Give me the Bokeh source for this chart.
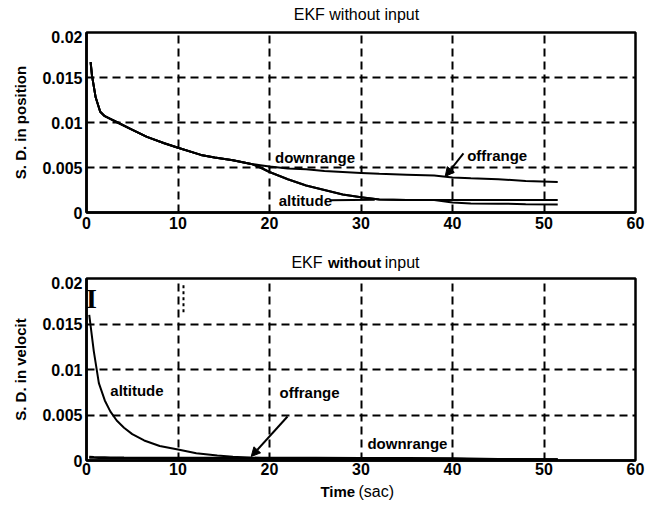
from bokeh.plotting import figure
from bokeh.layouts import column
from bokeh.models import Range1d, FixedTicker, Label, Arrow, NormalHead
from bokeh.embed import file_html
from bokeh.resources import INLINE

# axes
x_ticks = [0, 10, 20, 30, 40, 50, 60]
y_ticks = [0, 0.005, 0.01, 0.015, 0.02]
y_tick_labels = ["0", "0.005", "0.01", "0.015", "0.02"]

# standard deviation in position (time in seconds)
t_pos = [0.45, 0.6, 1.0, 1.5, 2.0, 2.6, 3.4, 4.8, 6.6, 8.5, 10, 12.5, 14, 16,
         18, 19, 20, 22, 24, 26, 28, 30, 32, 35, 38, 40, 42, 45, 48, 51.5]
pos_downrange = [0.0167, 0.0152, 0.0128, 0.0112, 0.0107, 0.0104, 0.0100, 0.0093,
                 0.0084, 0.0077, 0.0072, 0.0064, 0.0061, 0.0058,
                 0.0054, 0.00525, 0.0051, 0.0049, 0.0048, 0.0046, 0.0045, 0.0044,
                 0.0043, 0.0042, 0.0041, 0.0039, 0.0038, 0.0037, 0.0035, 0.0034]
pos_altitude = [0.0167, 0.0152, 0.0128, 0.0112, 0.0107, 0.0104, 0.0100, 0.0093,
                0.0084, 0.0077, 0.0072, 0.0064, 0.0061, 0.0058,
                0.0054, 0.0050, 0.0045, 0.0037, 0.0030, 0.0025, 0.0020, 0.0017,
                0.00145, 0.0014, 0.0014, 0.0014, 0.0014, 0.0014, 0.0014, 0.0014]
pos_offrange = [0.0167, 0.0152, 0.0128, 0.0112, 0.0107, 0.0104, 0.0100, 0.0093,
                0.0084, 0.0077, 0.0072, 0.0064, 0.0061, 0.0058,
                0.0054, 0.0050, 0.0045, 0.0037, 0.0030, 0.0025, 0.0020, 0.0017,
                0.00145, 0.0014, 0.0014, 0.0011, 0.0010, 0.00098, 0.00093, 0.0009]

# standard deviation in velocity
t_vel = [0.3, 0.8, 1.35, 2.0, 2.6, 3.3, 4.1, 5.0, 6.3, 8, 10, 12, 14.3, 16,
         18, 20, 25, 30, 35, 40, 45, 51.5]
vel_altitude = [0.0160, 0.0120, 0.0085, 0.0066, 0.0054, 0.0044, 0.0036, 0.0029,
                0.0022, 0.0016, 0.0012, 0.0008, 0.00055, 0.0004, 0.0003, 0.00025,
                0.0002, 0.00018, 0.00016, 0.00015, 0.00013, 0.00012]
vel_downrange = [0.0004, 0.00038, 0.00036, 0.00035, 0.00034, 0.00033, 0.00032, 0.00031,
                 0.0003, 0.0003, 0.0003, 0.0003, 0.0003, 0.0003, 0.0003, 0.0003,
                 0.00029, 0.00028, 0.00027, 0.00025, 0.00016, 0.00013]
vel_offrange = [0.0003, 0.00029, 0.00028, 0.00027, 0.00026, 0.00025, 0.00024, 0.00024,
                0.00023, 0.00023, 0.00022, 0.00022, 0.00022, 0.00022, 0.00022, 0.0002,
                0.0002, 0.0002, 0.00019, 0.00018, 0.00012, 0.0001]

FONT = "Liberation Sans"
W = 656
BORDER_L, BORDER_R = 86, 21


def make_panel(height, bottom, ylabel, x_standoff):
    p = figure(width=W, height=height, x_range=Range1d(0, 60), y_range=Range1d(0, 0.02),
               output_backend="svg", toolbar_location=None,
               min_border_left=BORDER_L, min_border_right=BORDER_R,
               min_border_top=2, min_border_bottom=bottom)
    p.background_fill_color = "white"
    p.border_fill_color = "white"
    p.outline_line_color = "black"
    p.outline_line_width = 2.5
    p.xaxis.ticker = FixedTicker(ticks=x_ticks)
    p.yaxis.ticker = FixedTicker(ticks=y_ticks)
    p.yaxis.major_label_overrides = dict(zip(y_ticks, y_tick_labels))
    p.grid.grid_line_color = "black"
    p.grid.grid_line_dash = "8 5"
    p.grid.grid_line_width = 2
    p.axis.axis_line_color = "black"
    p.axis.axis_line_width = 2.5
    p.axis.major_tick_in = 3
    p.axis.major_tick_out = 0
    p.axis.minor_tick_line_color = None
    p.axis.major_tick_line_color = "black"
    p.axis.major_label_text_font = FONT
    p.axis.major_label_text_font_style = "bold"
    p.axis.major_label_text_font_size = "16px"
    p.axis.major_label_text_color = "black"
    p.xaxis.major_label_standoff = x_standoff
    p.yaxis.major_label_standoff = 4
    p.yaxis.axis_label = ylabel
    p.yaxis.axis_label_text_font = FONT
    p.yaxis.axis_label_text_font_style = "bold"
    p.yaxis.axis_label_text_font_size = "15px"
    p.yaxis.axis_label_text_color = "black"
    p.yaxis.axis_label_standoff = 10
    return p


def make_strip(height):
    # a bare text band sharing the panels' horizontal scale
    s = figure(width=W, height=height, x_range=Range1d(0, 60), y_range=Range1d(0, 1),
               output_backend="svg", toolbar_location=None,
               min_border_left=BORDER_L, min_border_right=BORDER_R,
               min_border_top=0, min_border_bottom=0)
    s.axis.visible = False
    s.grid.visible = False
    s.outline_line_color = None
    s.background_fill_color = "white"
    s.border_fill_color = "white"
    return s


def text(p, x, y, s, size="15px", style="bold", align="left", font=FONT):
    p.add_layout(Label(x=x, y=y, text=s, text_font=font, text_font_size=size,
                       text_font_style=style, text_align=align,
                       text_baseline="middle", text_color="black"))


def pointer(p, x0, y0, x1, y1):
    p.add_layout(Arrow(x_start=x0, y_start=y0, x_end=x1, y_end=y1, line_width=2,
                       line_color="black",
                       end=NormalHead(size=9, fill_color="black", line_color="black")))


# title of the position panel
s1 = make_strip(30)
text(s1, 29.5, 0.53, "EKF without input", size="16px", style="normal", align="center")

# position panel
p1 = make_panel(215, 33, "S. D. in position", 4)
p1.line(t_pos, pos_downrange, line_color="black", line_width=2)
p1.line(t_pos, pos_altitude, line_color="black", line_width=2)
p1.line(t_pos, pos_offrange, line_color="black", line_width=2)
p1.line([26.6, 31.5], [0.00135, 0.00142], line_color="black", line_width=2)
text(p1, 20.6, 0.0061, "downrange")
text(p1, 21.0, 0.00133, "altitude")
text(p1, 41.6, 0.0063, "offrange")
pointer(p1, 41.2, 0.00656, 39.2, 0.0040)

# title of the velocity panel
s2 = make_strip(31)
text(s2, 25.8, 0.45, "EKF", size="16px", style="normal", align="right")
text(s2, 29.3, 0.45, "without", size="15px", style="bold", align="center")
text(s2, 32.6, 0.45, "input", size="16px", style="normal")

# velocity panel
p2 = make_panel(205, 21, "S. D. in velocit", 2)
p2.line(t_vel, vel_altitude, line_color="black", line_width=2)
p2.line(t_vel, vel_downrange, line_color="black", line_width=2)
p2.line(t_vel, vel_offrange, line_color="black", line_width=2)
p2.segment(x0=[10.6], y0=[0.0163], x1=[10.6], y1=[0.0193], line_color="black",
           line_width=2, line_dash="3 3")
text(p2, 0.55, 0.0178, "I", size="28px", style="bold", align="center", font="Liberation Serif")
text(p2, 2.6, 0.0077, "altitude")
text(p2, 21.1, 0.00747, "offrange")
text(p2, 30.7, 0.00187, "downrange")
pointer(p2, 21.97, 0.00484, 18.0, 0.00044)

# time axis caption
s3 = make_strip(26)
text(s3, 25.57, 0.6, "Time", size="15px", style="bold")
text(s3, 29.73, 0.6, "(sac)", size="16px", style="normal")

layout = column(s1, p1, s2, p2, s3, spacing=0)
open("out.html", "w").write(file_html(layout, INLINE))
